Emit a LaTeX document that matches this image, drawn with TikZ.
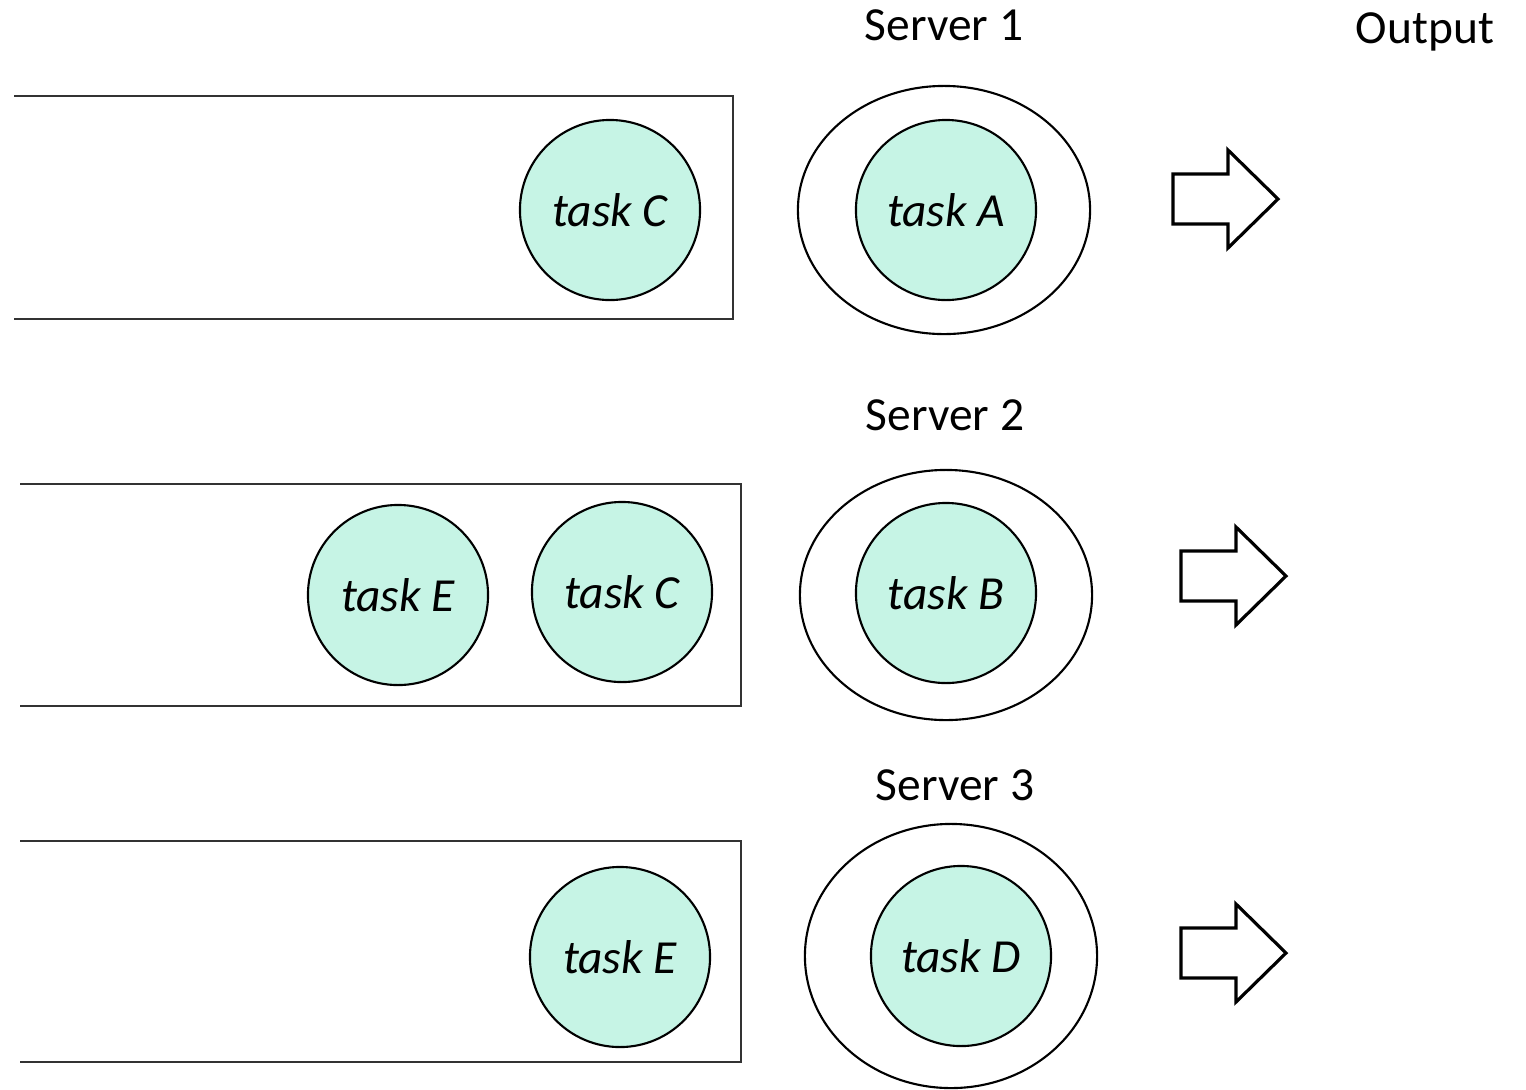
\documentclass[tikz,border=0pt]{standalone}
\usepackage{fontspec}
\setmainfont{Carlito}
\usetikzlibrary{shapes.geometric}
\definecolor{taskfill}{RGB}{198,244,229}
\tikzset{
    task/.style={circle, draw, line width=0.6pt, fill=taskfill, minimum size=1.8cm, inner sep=0pt, font=\fontsize{13.5}{16}\selectfont\itshape},
    server/.style={ellipse, draw, line width=0.6pt, minimum width=2.92cm, inner sep=0pt},
    label/.style={font=\fontsize{13.5}{16}\selectfont},
    queue/.style={draw=black!80, line width=0.55pt}
}
\begin{document}
\begin{tikzpicture}[x=0.01cm, y=-0.01cm]
    \useasboundingbox (0,0) rectangle (1526,1090);

    % queues
    \draw[queue] (14,96) -- (733,96) -- (733,319) -- (14,319);
    \draw[queue] (20,484) -- (741,484) -- (741,706) -- (20,706);
    \draw[queue] (20,841) -- (741,841) -- (741,1062) -- (20,1062);

    % servers
    \node[server, minimum height=2.48cm] (s1) at (944,210) {};
    \node[server, minimum height=2.50cm] (s2) at (946,595) {};
    \node[server, minimum height=2.64cm] (s3) at (951,956) {};
    \node[label] (l1) at (944,25) {Server 1};
    \node[label] (l2) at (945,415) {Server 2};
    \node[label] (l3) at (955,785) {Server 3};
    \node[label] (out) at (1425,32) {Output};

    % tasks
    \node[task] (a) at (946,210) {task A};
    \node[task] (c1) at (610,210) {task C};
    \node[task] (b) at (946,593) {task B};
    \node[task] (c2) at (622,592) {task C};
    \node[task] (e1) at (398,595) {task E};
    \node[task] (d) at (961,956) {task D};
    \node[task] (e2) at (620,957) {task E};

    % output arrows
    \foreach \ax/\ay in {1173/199, 1181/576, 1181/953}
        \draw[line width=0.9pt, line join=miter] (\ax,\ay-25) -- ++(55,0) -- ++(0,-24) -- ++(50,49)
            -- ++(-50,49) -- ++(0,-24) -- ++(-55,0) -- cycle;
\end{tikzpicture}
\end{document}
